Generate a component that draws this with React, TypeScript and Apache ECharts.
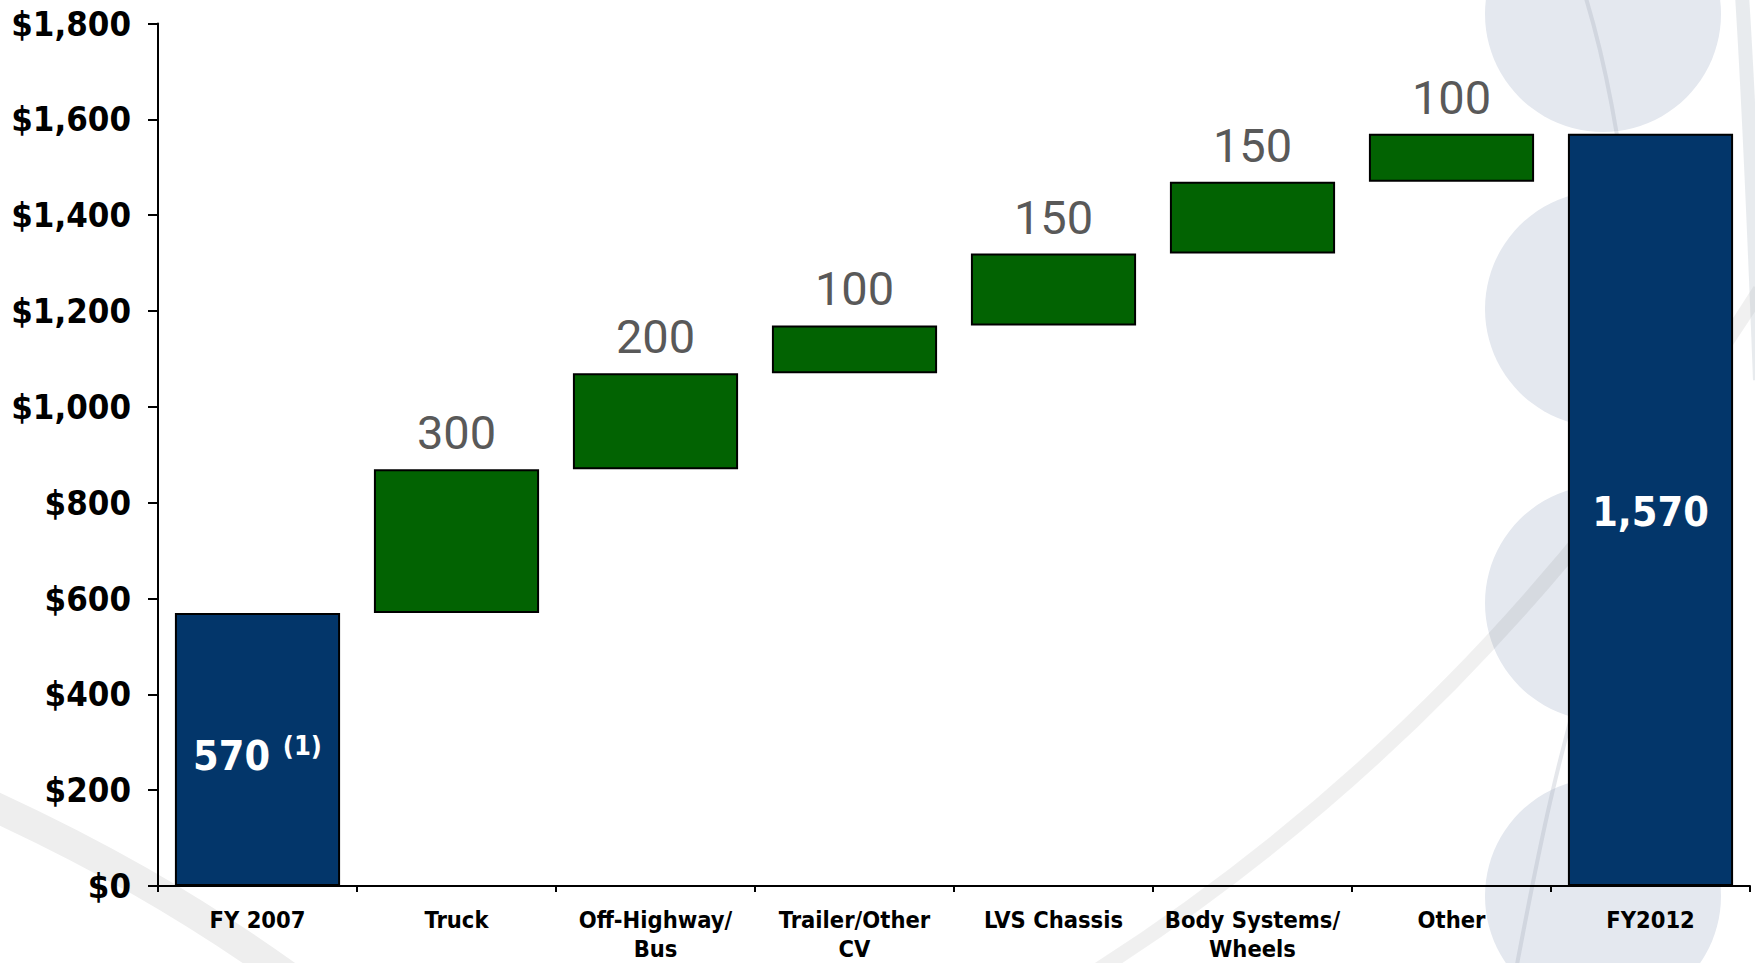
import React, { useEffect, useRef } from "react";
import * as echarts from "echarts";

const categories = [
  "FY 2007",
  "Truck",
  "Off-Highway/\nBus",
  "Trailer/Other\nCV",
  "LVS Chassis",
  "Body Systems/\nWheels",
  "Other",
  "FY2012",
];
const startTotal = 570;
const startNote = "(1)";
const increments = [300, 200, 100, 150, 150, 100];
const endTotal = 1570;
const yMin = 0;
const yMax = 1800;
const yStep = 200;

const BLUE = "#03366A";
const GREEN = "#026302";
const BOLD_FONT = "'DejaVu Sans Condensed', 'DejaVu Sans', sans-serif";

function fmtNum(v: number): string {
  return v.toString().replace(/\B(?=(\d{3})+(?!\d))/g, ",");
}

export default function App() {
  const ref = useRef<HTMLDivElement>(null);

  useEffect(() => {
    if (!ref.current) return;
    const chart = echarts.init(ref.current, undefined, { renderer: "svg" });

    // invisible bases for the waterfall
    const bases: number[] = [0];
    let run = startTotal;
    for (const inc of increments) {
      bases.push(run);
      run += inc;
    }
    bases.push(0);

    const totalLabel = (text: string, dy: number) => ({
      show: true,
      position: "inside",
      offset: [0, dy],
      formatter: text,
      rich: {
        a: {
          fontFamily: BOLD_FONT,
          fontWeight: "bold",
          fontSize: 41,
          color: "#ffffff",
          lineHeight: 48,
        },
        b: {
          fontFamily: BOLD_FONT,
          fontWeight: "bold",
          fontSize: 27,
          color: "#ffffff",
          lineHeight: 30,
          verticalAlign: "top",
        },
      },
    });

    const valueData: any[] = [];
    valueData.push({
      value: startTotal,
      itemStyle: { color: BLUE },
      label: totalLabel(`{a|${fmtNum(startTotal)} }{b|${startNote}}`, 7),
    });
    increments.forEach((inc) => {
      valueData.push({
        value: inc,
        itemStyle: { color: GREEN },
        label: {
          show: true,
          position: "top",
          distance: 13,
          formatter: fmtNum(inc),
          fontFamily: "Roboto, sans-serif",
          fontSize: 47,
          color: "#595959",
        },
      });
    });
    valueData.push({
      value: endTotal,
      itemStyle: { color: BLUE },
      label: totalLabel(`{a|${fmtNum(endTotal)}}`, 2),
    });

    const option: any = {
      animation: false,
      backgroundColor: "#ffffff",
      graphic: [
        // decorative background
        {
          type: "bezierCurve",
          z: -10,
          shape: { x1: -20, y1: 800, cpx1: 90, cpy1: 850, cpx2: 190, cpy2: 905, x2: 300, y2: 985 },
          style: { stroke: "#eeeeee", lineWidth: 30, fill: null },
          silent: true,
        },
        {
          type: "circle",
          z: -10,
          shape: { cx: 1603, cy: 14, r: 118 },
          style: { fill: "#E4E8EF" },
          silent: true,
        },
        {
          type: "circle",
          z: -10,
          shape: { cx: 1603, cy: 309, r: 118 },
          style: { fill: "#E4E8EF" },
          silent: true,
        },
        {
          type: "circle",
          z: -10,
          shape: { cx: 1603, cy: 603, r: 118 },
          style: { fill: "#E4E8EF" },
          silent: true,
        },
        {
          type: "circle",
          z: -10,
          shape: { cx: 1603, cy: 896, r: 118 },
          style: { fill: "#E4E8EF" },
          silent: true,
        },
        {
          type: "bezierCurve",
          z: -9,
          shape: { x1: 1090, y1: 975, cpx1: 1350, cpy1: 810, cpx2: 1570, cpy2: 590, x2: 1760, y2: 290 },
          style: { stroke: "rgba(0,0,0,0.06)", lineWidth: 15, fill: null },
          silent: true,
        },
        {
          type: "bezierCurve",
          z: -9,
          shape: { x1: 1585, y1: -5, cpx1: 1605, cpy1: 60, cpx2: 1620, cpy2: 140, x2: 1630, y2: 230 },
          style: { stroke: "rgba(150,160,175,0.25)", lineWidth: 4, fill: null },
          silent: true,
        },
        {
          type: "bezierCurve",
          z: -9,
          shape: { x1: 1515, y1: 975, cpx1: 1535, cpy1: 870, cpx2: 1555, cpy2: 760, x2: 1600, y2: 620 },
          style: { stroke: "rgba(150,160,175,0.25)", lineWidth: 4, fill: null },
          silent: true,
        },
        {
          type: "bezierCurve",
          z: -9,
          shape: { x1: 1742, y1: -5, cpx1: 1750, cpy1: 120, cpx2: 1755, cpy2: 250, x2: 1760, y2: 380 },
          style: { stroke: "rgba(180,188,200,0.3)", lineWidth: 14, fill: null },
          silent: true,
        },
      ],
      grid: {
        left: 158,
        right: 5,
        top: 23.5,
        bottom: 73,
        containLabel: false,
      },
      xAxis: {
        type: "category",
        data: categories,
        boundaryGap: true,
        axisLine: { show: true, lineStyle: { color: "#000", width: 2 } },
        axisTick: { show: true, length: 6, lineStyle: { color: "#000", width: 2 } },
        axisLabel: {
          interval: 0,
          margin: 19,
          fontFamily: BOLD_FONT,
          fontWeight: "bold",
          fontSize: 23.5,
          lineHeight: 29,
          color: "#000",
        },
      },
      yAxis: {
        type: "value",
        min: yMin,
        max: yMax,
        interval: yStep,
        splitLine: { show: false },
        axisLine: { show: true, lineStyle: { color: "#000", width: 2 } },
        axisTick: { show: true, length: 10, lineStyle: { color: "#000", width: 2 } },
        axisLabel: {
          margin: 27,
          fontFamily: BOLD_FONT,
          fontWeight: "bold",
          fontSize: 34.5,
          color: "#000",
          formatter: (v: number) => "$" + fmtNum(v),
        },
      },
      series: [
        {
          name: "base",
          type: "bar",
          stack: "w",
          silent: true,
          barCategoryGap: "17%",
          itemStyle: { color: "transparent", borderWidth: 0 },
          emphasis: { disabled: true },
          data: bases,
        },
        {
          name: "value",
          type: "bar",
          stack: "w",
          barCategoryGap: "17%",
          itemStyle: { borderColor: "#000", borderWidth: 2 },
          emphasis: { disabled: true },
          data: valueData,
        },
      ],
    };

    chart.setOption(option);
    return () => chart.dispose();
  }, []);

  return (
    <div
      ref={ref}
      style={{ position: "fixed", left: 0, top: 0, width: 1755, height: 963, background: "#fff" }}
    />
  );
}
